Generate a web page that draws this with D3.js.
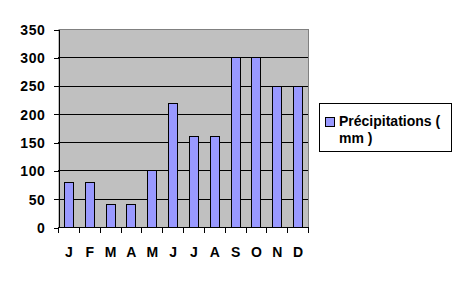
<!DOCTYPE html>
<html>
<head>
<meta charset="utf-8">
<script src="https://cdn.jsdelivr.net/npm/d3@7"></script>
<style>
  body { margin: 0; background: #fff; }
  svg text { font-family: Arial, "Liberation Sans", sans-serif; font-weight: bold; }
</style>
</head>
<body>
<div id="chart"></div>
<script>
'use strict'

// données
var mois = ['J', 'F', 'M', 'A', 'M', 'J', 'J', 'A', 'S', 'O', 'N', 'D'];
var precipitations = [80, 80, 40, 40, 100, 220, 160, 160, 300, 300, 250, 250];
var ticksY = [0, 50, 100, 150, 200, 250, 300, 350];
var legende = ['Précipitations (', 'mm )'];

var width = 468, height = 281;
var margin = { top: 29, right: 160, bottom: 54, left: 58 };
var w = width - margin.left - margin.right,   // 250
    h = height - margin.top - margin.bottom;  // 198

var svg = d3.select('#chart').append('svg')
  .attr('width', width)
  .attr('height', height)
  .attr('shape-rendering', 'crispEdges');

var g = svg.append('g')
  .attr('transform', 'translate(' + margin.left + ',' + margin.top + ')');

var x = d3.scaleBand().domain(d3.range(mois.length)).range([0, w]).paddingInner(0.56).paddingOuter(0.28);
var xTicks = d3.scaleBand().domain(d3.range(mois.length)).range([0, w]);
var y = d3.scaleLinear().domain([0, 350]).range([h, 0]);

// fond gris
g.append('rect')
  .attr('x', 0).attr('y', 0)
  .attr('width', w).attr('height', h)
  .attr('fill', '#c0c0c0');

// bordure haut / droite
g.append('path')
  .attr('d', 'M0.5,0.5H' + (w + 0.5) + 'V' + h)
  .attr('fill', 'none')
  .attr('stroke', '#808080');

// grille
g.selectAll('.grid')
  .data(ticksY.filter(function (d) { return d > 0 && d < 350; }))
  .enter().append('line')
  .attr('x1', 0).attr('x2', w)
  .attr('y1', function (d) { return Math.round(y(d)) + 0.5; })
  .attr('y2', function (d) { return Math.round(y(d)) + 0.5; })
  .attr('stroke', '#000');

// barres
g.selectAll('.bar')
  .data(precipitations)
  .enter().append('rect')
  .attr('x', function (d, i) { return Math.round(x(i)) + 0.5; })
  .attr('y', function (d) { return Math.round(y(d)) + 0.5; })
  .attr('width', Math.round(x.bandwidth()))
  .attr('height', function (d) { return Math.round(h - y(d)); })
  .attr('fill', '#9999ff')
  .attr('stroke', '#000');

// axe Y
var axeY = g.append('g')
  .attr('transform', 'translate(0.5,0.5)')
  .call(d3.axisLeft(y).tickValues(ticksY).tickSize(5).tickPadding(8).tickSizeOuter(0));
axeY.select('.domain').attr('stroke', '#000');
axeY.selectAll('text')
  .attr('font-size', '14px')
  .attr('fill', '#000')
  .attr('dy', '0.35em')
  .style('letter-spacing', '0.6px');

// axe X
var axeX = g.append('g')
  .attr('transform', 'translate(0.5,' + (h + 0.5) + ')');
axeX.append('line')
  .attr('x1', -0.5).attr('x2', w)
  .attr('y1', 0).attr('y2', 0)
  .attr('stroke', '#000');
axeX.selectAll('.tick')
  .data(d3.range(mois.length + 1))
  .enter().append('line')
  .attr('x1', function (d) { return Math.round(d * xTicks.step()); })
  .attr('x2', function (d) { return Math.round(d * xTicks.step()); })
  .attr('y1', 0).attr('y2', 5)
  .attr('stroke', '#000');
axeX.selectAll('.lbl')
  .data(mois)
  .enter().append('text')
  .attr('x', function (d, i) { return xTicks(i) + xTicks.bandwidth() / 2; })
  .attr('y', 29)
  .attr('text-anchor', 'middle')
  .attr('font-size', '14px')
  .text(function (d) { return d; });

// légende
var leg = svg.append('g');
leg.append('rect')
  .attr('x', 319.5).attr('y', 103.5)
  .attr('width', 132).attr('height', 48)
  .attr('fill', '#fff')
  .attr('stroke', '#000');
leg.append('rect')
  .attr('x', 325.5).attr('y', 117.5)
  .attr('width', 9).attr('height', 9)
  .attr('fill', '#9999ff')
  .attr('stroke', '#000');
leg.selectAll('text')
  .data(legende)
  .enter().append('text')
  .attr('x', 339)
  .attr('y', function (d, i) { return 126 + i * 17; })
  .attr('font-size', '14px')
  .text(function (d) { return d; });
</script>
</body>
</html>
